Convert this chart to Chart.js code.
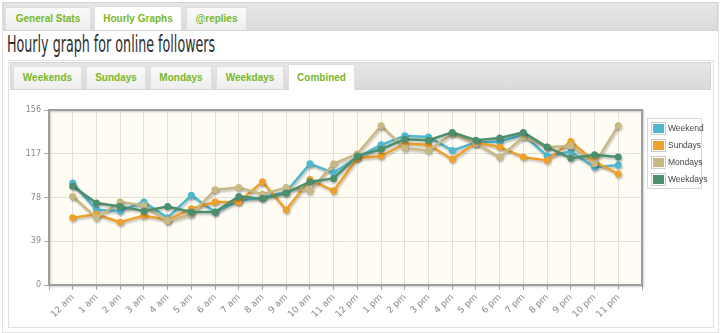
<!DOCTYPE html>
<html>
<head>
<meta charset="utf-8">
<script src="https://cdn.jsdelivr.net/npm/chart.js@4/dist/chart.umd.min.js"></script>
<style>
  body { margin: 0; background: #fff; width: 720px; height: 333px; overflow: hidden; position: relative; font-family: "Liberation Sans", Arial, sans-serif; }
  .frame { position: absolute; left: 2px; top: 2px; width: 715px; height: 330px; border: 1px solid #e2e2e2; border-top: none; }
  .tabbar { position: absolute; background: linear-gradient(#e6e6e6, #dadada); border: 1px solid #d4d4d4; }
  .tab { position: absolute; background: linear-gradient(#fafafa, #eeeeee); color: #78b829; font-weight: bold; font-size: 10px; text-align: center; border: 1px solid #dedede; border-bottom: none; box-sizing: border-box; }
  .tab.on { background: #fff; }
  h1 { position: absolute; left: 7px; top: 31px; margin: 0; font-family: "Liberation Sans Narrow", "DejaVu Sans Condensed", sans-serif; font-weight: normal; font-size: 23px; color: #2e2e2e; white-space: nowrap; transform-origin: left top; }
  .panel { position: absolute; left: 8px; top: 60px; width: 704px; height: 266px; border: 1px solid #e0e0e0; }
  #wrap { position: absolute; left: 9px; top: 92px; width: 703px; height: 233px; }
  #legend { position: absolute; left: 647px; top: 118px; width: 53px; height: 69px; border: 1px solid #d8d8d8; background: #fff; font-size: 8.5px; color: #444; }
  #legend div { position: absolute; left: 3px; height: 14px; line-height: 14px; white-space: nowrap; }
  #legend span { display: inline-block; width: 11px; height: 9px; border: 1px solid #ccc; padding: 1px; background-clip: content-box; vertical-align: middle; margin-right: 2px; }
</style>
</head>
<body>
<div class="frame"></div>
<div class="tabbar" style="left:3px;top:2px;width:713px;height:27px;"></div>
<div class="tab" style="left:5px;top:7px;width:86px;height:23px;line-height:22px;">General Stats</div>
<div class="tab on" style="left:94px;top:6px;width:88px;height:24px;line-height:23px;">Hourly Graphs</div>
<div class="tab" style="left:186px;top:7px;width:61px;height:23px;line-height:22px;">@replies</div>
<h1 id="title">Hourly graph for online followers</h1>
<div class="panel"></div>
<div class="tabbar" style="left:10px;top:62px;width:699px;height:26px;"></div>
<div class="tab" style="left:13px;top:66px;width:69px;height:23px;line-height:22px;">Weekends</div>
<div class="tab" style="left:86px;top:66px;width:60px;height:23px;line-height:22px;">Sundays</div>
<div class="tab" style="left:150px;top:66px;width:62px;height:23px;line-height:22px;">Mondays</div>
<div class="tab" style="left:216px;top:66px;width:68px;height:23px;line-height:22px;">Weekdays</div>
<div class="tab on" style="left:288px;top:64px;width:67px;height:26px;line-height:25px;">Combined</div>
<div id="wrap"><canvas id="chart"></canvas></div>
<div id="legend"></div>
<script>
let hours = ["12 am","1 am","2 am","3 am","4 am","5 am","6 am","7 am","8 am","9 am","10 am","11 am",
             "12 pm","1 pm","2 pm","3 pm","4 pm","5 pm","6 pm","7 pm","8 pm","9 pm","10 pm","11 pm"];
let yTicks = [0, 39, 78, 117, 156];
let seriesNames = ["Weekend", "Sundays", "Mondays", "Weekdays"];
let seriesColors = ["#4fb8cf", "#efa12b", "#c8b883", "#4b8f6d"];

let weekend  = [91, 67, 66, 74, 60, 80, 65, 75, 78, 83, 108, 100, 114, 125, 133, 132, 120, 127, 128, 134, 115, 119, 105, 107];
let sundays  = [60, 63, 56, 62, 58, 68, 74, 74, 92, 67, 94, 84, 113, 115, 126, 125, 112, 127, 123, 114, 111, 128, 110, 99];
let mondays  = [79, 60, 74, 71, 57, 63, 85, 87, 81, 87, 84, 108, 117, 142, 122, 120, 135, 126, 114, 132, 123, 124, 108, 142];
let weekdays = [88, 73, 70, 66, 70, 65, 65, 79, 77, 82, 92, 95, 115, 121, 130, 129, 136, 129, 131, 136, 123, 113, 116, 114];
let allSeries = [weekend, sundays, mondays, weekdays];

// squeeze the heading to the narrow width of the original font
let title = document.getElementById("title");
title.style.transform = "scaleX(" + (208 / title.offsetWidth) + ")";

let legend = document.getElementById("legend");
seriesNames.forEach(function (name, i) {
    let row = document.createElement("div");
    row.style.top = (2 + i * 17) + "px";
    row.innerHTML = '<span style="background-color:' + seriesColors[i] + '"></span>' + name;
    legend.appendChild(row);
});

// flot-like plot background, border and line shadows
let plotFrame = {
    id: "plotFrame",
    beforeDraw(chart) {
        let a = chart.chartArea, ctx = chart.ctx;
        ctx.save();
        ctx.fillStyle = "#fffcf3";
        ctx.fillRect(a.left, a.top, a.right - a.left, a.bottom - a.top);
        ctx.restore();
    },
    beforeDatasetDraw(chart) {
        let ctx = chart.ctx;
        ctx.save();
        ctx.shadowColor = "rgba(0,0,0,0.22)";
        ctx.shadowOffsetX = 1;
        ctx.shadowOffsetY = 2;
        ctx.shadowBlur = 2;
    },
    afterDatasetDraw(chart) {
        chart.ctx.restore();
    },
    afterDraw(chart) {
        let a = chart.chartArea, ctx = chart.ctx;
        ctx.save();
        ctx.shadowColor = "rgba(0,0,0,0.2)";
        ctx.shadowOffsetX = 1;
        ctx.shadowOffsetY = 1;
        ctx.shadowBlur = 2;
        ctx.strokeStyle = "#9e9e9e";
        ctx.lineWidth = 2;
        ctx.strokeRect(a.left, a.top, a.right - a.left, a.bottom - a.top);
        ctx.restore();
    }
};

let datasets = allSeries.map(function (values, i) {
    return {
        label: seriesNames[i],
        data: values.map(function (v, h) { return { x: h, y: v }; }),
        borderColor: seriesColors[i],
        backgroundColor: seriesColors[i],
        borderWidth: 2.5,
        pointRadius: 3.5,
        pointBorderWidth: 0,
        tension: 0,
        order: allSeries.length - i
    };
});

let ctx = document.getElementById("chart").getContext("2d");
new Chart(ctx, {
    type: "line",
    data: { datasets: datasets },
    plugins: [plotFrame],
    options: {
        responsive: true,
        maintainAspectRatio: false,
        animation: false,
        events: [],
        layout: { padding: { top: 18, right: 70, left: 0, bottom: 0 } },
        plugins: { legend: { display: false }, tooltip: { enabled: false } },
        scales: {
            x: {
                type: "linear",
                min: -1,
                max: hours.length,
                afterBuildTicks: function (scale) {
                    scale.ticks = [];
                    for (let h = -1; h <= hours.length; h++) scale.ticks.push({ value: h });
                },
                afterFit: function (scale) { scale.height = 40; },
                grid: { color: "#e2e0da", tickLength: 5, tickColor: "#aaa" },
                border: { display: false },
                ticks: {
                    autoSkip: false,
                    minRotation: 45,
                    maxRotation: 45,
                    padding: 2,
                    color: "#888",
                    font: { family: "DejaVu Sans", size: 9 },
                    callback: function (v) { return hours[v] || ""; }
                }
            },
            y: {
                min: 0,
                max: 156,
                afterBuildTicks: function (scale) {
                    scale.ticks = yTicks.map(function (v) { return { value: v }; });
                },
                afterFit: function (scale) { scale.width = 40; },
                grid: { color: "#e2e0da", tickLength: 5, tickColor: "#aaa" },
                border: { display: false },
                ticks: {
                    padding: 3,
                    color: "#888",
                    font: { family: "DejaVu Sans", size: 8 }
                }
            }
        }
    }
});
</script>
</body>
</html>
